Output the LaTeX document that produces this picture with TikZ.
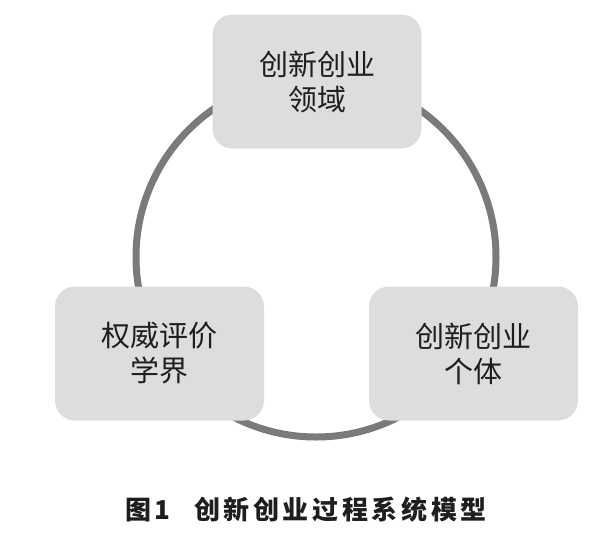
\documentclass[tikz,border=0pt]{standalone}
\usepackage{fontspec}
\newfontfamily\cjk{Noto Sans CJK SC}
\newfontfamily\cjkcap[LetterSpace=14]{Noto Sans CJK SC}
\usetikzlibrary{calc}
\definecolor{boxgray}{RGB}{221,221,221}
\definecolor{ringgray}{RGB}{122,122,122}
\definecolor{inkgray}{RGB}{30,30,30}
\tikzset{
	part/.style = {fill=boxgray, rounded corners=20pt, minimum width=209pt, minimum height=134pt,
		align=center, text=inkgray, font=\cjk\fontsize{29}{35}\selectfont},
	ring/.style = {draw=ringgray, line width=7pt}
}

\begin{document}
\begin{tikzpicture}[x=1pt, y=-1pt]
		\useasboundingbox (0,0) rectangle (600,547);
		\coordinate (O) at (316,257);
		\draw[ring] (O) circle (180pt);
		\node[part] (F) at (317,81.5) {创新创业\\领域};
		\node[part] (A) at (159.5,353.5) {权威评价\\学界};
		\node[part] (I) at (473.5,353.5) {创新创业\\个体};
		\node[font=\cjkcap\bfseries\fontsize{26}{30}\selectfont, text=inkgray] (C) at (306,510)
			{图1\hspace{0.9em}创新创业过程系统模型};
	\end{tikzpicture}
\end{document}
